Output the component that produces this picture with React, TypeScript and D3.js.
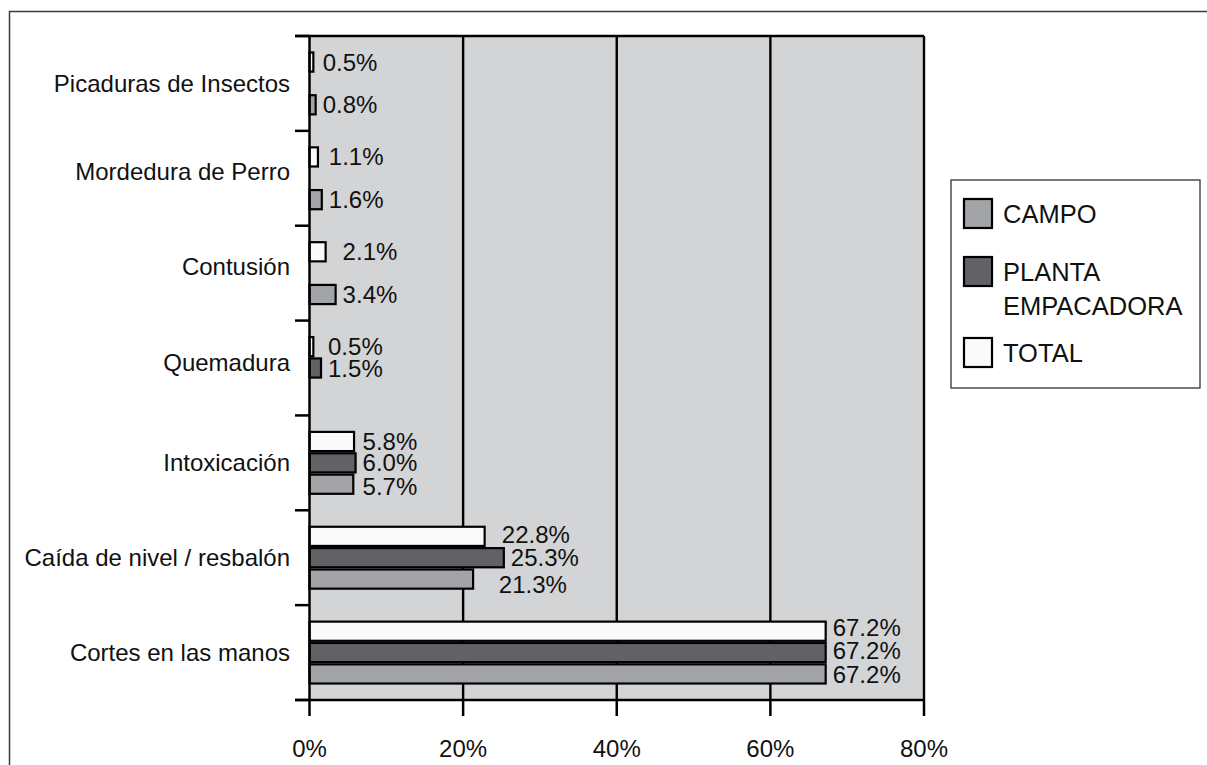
import React from "react";
import * as d3 from "d3";

// Injury types, listed top to bottom
const categories = [
  "Picaduras de Insectos",
  "Mordedura de Perro",
  "Contusión",
  "Quemadura",
  "Intoxicación",
  "Caída de nivel / resbalón",
  "Cortes en las manos",
];

// Percentages per work area (null = no bar)
const campo: (number | null)[] = [0.8, 1.6, 3.4, null, 5.7, 21.3, 67.2];
const planta: (number | null)[] = [null, null, null, 1.5, 6.0, 25.3, 67.2];
const total: (number | null)[] = [0.5, 1.1, 2.1, 0.5, 5.8, 22.8, 67.2];

const xTicks = [0, 20, 40, 60, 80];

const seriesNames = ["TOTAL", "PLANTA", "CAMPO"];
const legendItems = [
  { key: "CAMPO", lines: ["CAMPO"] },
  { key: "PLANTA", lines: ["PLANTA", "EMPACADORA"] },
  { key: "TOTAL", lines: ["TOTAL"] },
];

const W = 1207;
const H = 765;
const FONT = "'Liberation Sans', Arial, Helvetica, sans-serif";

const fills: Record<string, string> = {
  CAMPO: "#a2a4a7",
  PLANTA: "#616266",
  TOTAL: "#fafafa",
};

export default function App() {
  const left = 309.5;
  const right = 924;
  const top = 36;
  const bottom = 700;

  const x = d3.scaleLinear().domain([0, 80]).range([left, right]);
  const y = d3.scaleBand<string>().domain(categories).range([top, bottom]).padding(0);
  const slot = d3
    .scaleBand<string>()
    .domain(seriesNames)
    .range([0, y.bandwidth()])
    .paddingInner(0)
    .paddingOuter(0.72);

  const seriesValues: Record<string, (number | null)[]> = {
    TOTAL: total,
    PLANTA: planta,
    CAMPO: campo,
  };

  const stroke = 2.2;
  const step = slot.bandwidth();

  // extra shifts for a few value labels
  const labelNudge: Record<string, [number, number]> = {
    "Caída de nivel / resbalón|TOTAL": [-9, -2],
    "Caída de nivel / resbalón|CAMPO": [-12, 5],
    "Cortes en las manos|TOTAL": [0, -4],
    "Cortes en las manos|PLANTA": [0, -2],
    "Cortes en las manos|CAMPO": [0, 1],
    "Intoxicación|CAMPO": [0, 2],
  };
  // vertical shifts for a few category labels
  const catNudge: Record<string, number> = {
    "Mordedura de Perro": -7,
    "Contusión": -7,
    "Quemadura": -6,
  };

  const bandEdges = categories.map((c) => y(c)!).concat([bottom]);

  return (
    <svg
      width={W}
      height={H}
      style={{ position: "absolute", left: 0, top: 0, display: "block", background: "#fff" }}
      fontFamily={FONT}
    >
      {/* outer frame */}
      <rect x={9.5} y={11.5} width={W + 20} height={H + 20} fill="none" stroke="#3a3a3a" strokeWidth={1.5} />

      {/* plot background */}
      <rect x={left} y={top} width={right - left} height={bottom - top} fill="#d3d4d6" />

      {/* vertical gridlines */}
      {xTicks.slice(1).map((t) => (
        <line key={"g" + t} x1={x(t)} x2={x(t)} y1={top} y2={bottom} stroke="#000" strokeWidth={2.4} />
      ))}

      {/* bars */}
      {categories.map((c, i) => {
        const vals = seriesNames.map((s) => seriesValues[s][i]);
        const maxEnd = x(d3.max(vals.map((v) => v ?? 0))!);
        return (
          <g key={c}>
            {seriesNames.map((s) => {
              const v = seriesValues[s][i];
              if (v == null) return null;
              const by = y(c)! + slot(s)! + stroke / 2;
              const bh = step - stroke;
              const [dx, dy] = labelNudge[c + "|" + s] ?? [0, 0];
              return (
                <g key={s}>
                  <rect
                    x={x(0)}
                    y={by}
                    width={x(v) - x(0)}
                    height={bh}
                    fill={fills[s]}
                    stroke="#000"
                    strokeWidth={stroke}
                  />
                  <text
                    x={maxEnd + 7 + dx}
                    y={by + bh / 2 + dy}
                    dominantBaseline="central"
                    fontSize={24}
                    fill="#111"
                  >
                    {v.toFixed(1)}%
                  </text>
                </g>
              );
            })}
          </g>
        );
      })}

      {/* top border */}
      <line x1={295} x2={right} y1={top} y2={top} stroke="#000" strokeWidth={2.5} />
      {/* y axis */}
      <line x1={left} x2={left} y1={top} y2={bottom} stroke="#000" strokeWidth={2.5} />
      {bandEdges.map((e, i) => (
        <line key={"yt" + i} x1={295} x2={left} y1={e} y2={e} stroke="#000" strokeWidth={2.5} />
      ))}
      {/* x axis */}
      <line x1={295} x2={right} y1={bottom} y2={bottom} stroke="#000" strokeWidth={2.5} />
      {xTicks.map((t) => (
        <g key={"xt" + t}>
          <line x1={x(t)} x2={x(t)} y1={bottom} y2={716} stroke="#000" strokeWidth={2.5} />
          <text x={x(t)} y={748} textAnchor="middle" dominantBaseline="central" fontSize={24} fill="#111">
            {t}%
          </text>
        </g>
      ))}

      {/* category labels */}
      {categories.map((c) => (
        <text
          key={"c" + c}
          x={290}
          y={y(c)! + y.bandwidth() / 2 + (catNudge[c] ?? 0)}
          textAnchor="end"
          dominantBaseline="central"
          fontSize={24}
          fill="#111"
        >
          {c}
        </text>
      ))}

      {/* legend */}
      <rect x={951} y={180} width={249} height={208} fill="#fff" stroke="#222" strokeWidth={1.2} />
      {legendItems.map((item, i) => {
        const sy = [199, 257, 338][i];
        return (
          <g key={item.key}>
            <rect x={964} y={sy} width={28} height={29} fill={fills[item.key]} stroke="#000" strokeWidth={2.2} />
            {item.lines.map((ln, j) => (
              <text key={ln} x={1003} y={sy + 15 + j * 34} dominantBaseline="central" fontSize={25.5} fill="#111">
                {ln}
              </text>
            ))}
          </g>
        );
      })}
    </svg>
  );
}
